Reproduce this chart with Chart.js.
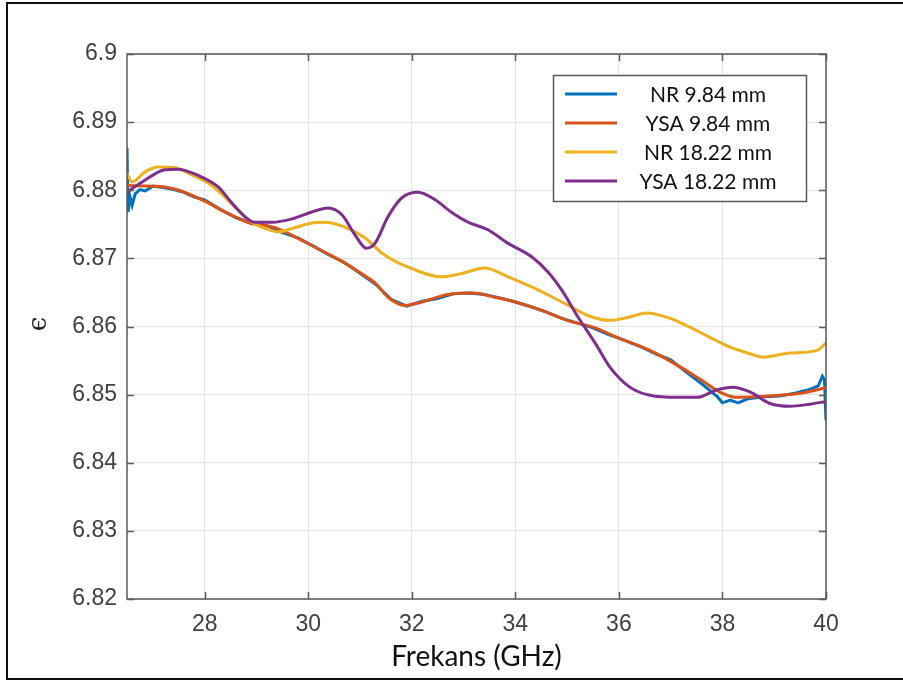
<!DOCTYPE html>
<html>
<head>
<meta charset="utf-8">
<script src="https://cdn.jsdelivr.net/npm/chart.js@4.4.1/dist/chart.umd.min.js"></script>
<style>
    html, body { margin: 0; padding: 0; background: #fff; overflow: hidden; }
    #wrap { position: relative; width: 903px; height: 680px; }
    #frame {
        position: absolute; left: 6px; top: 2px; width: 920px; height: 674px;
        border-left: 2px solid #111; border-top: 2px solid #111; border-bottom: 2px solid #111;
        pointer-events: none;
    }
    canvas { position: absolute; left: 0; top: 0; }
</style>
</head>
<body>
<div id="wrap">
    <canvas id="epsChart" width="903" height="680"></canvas>
    <div id="frame"></div>
</div>
<script>
// Tick positions and labels
const xTicks = [28, 30, 32, 34, 36, 38, 40];
const xTickLabels = ['28', '30', '32', '34', '36', '38', '40'];
const yTicks = [6.82, 6.83, 6.84, 6.85, 6.86, 6.87, 6.88, 6.89, 6.9];
const yTickLabels = ['6.82', '6.83', '6.84', '6.85', '6.86', '6.87', '6.88', '6.89', '6.9'];

const seriesNames = ['NR 9.84 mm', 'YSA 9.84 mm', 'NR 18.22 mm', 'YSA 18.22 mm'];

// NR 9.84 mm (measured, noisy)
const nr984Freq = [26.5, 26.52, 26.56, 26.6, 26.66, 26.75, 26.85, 27.0, 27.2, 27.4, 27.6, 27.8, 28.0, 28.3, 28.6, 28.9,
    29.2, 29.5, 29.8, 30.1, 30.4, 30.7, 31.0, 31.3, 31.6, 31.9, 32.2, 32.5, 32.8, 33.1, 33.4, 33.7, 34.0, 34.3,
    34.6, 34.9, 35.2, 35.5, 35.8, 36.1, 36.4, 36.7, 37.0, 37.3, 37.6, 37.9, 38.0, 38.15, 38.3, 38.5, 38.8, 39.1,
    39.4, 39.7, 39.85, 39.93, 39.97, 40.0];
const nr984Val = [6.8862, 6.8768, 6.8790, 6.8778, 6.8795, 6.8801, 6.8799, 6.8806, 6.8804, 6.8801, 6.8797, 6.8790, 6.8786,
    6.8772, 6.8760, 6.8752, 6.8748, 6.8738, 6.8730, 6.8718, 6.8705, 6.8694, 6.8678, 6.8662, 6.8640, 6.8630,
    6.8637, 6.8641, 6.8648, 6.8649, 6.8647, 6.8642, 6.8636, 6.8629, 6.8621, 6.8612, 6.8605, 6.8598, 6.8588,
    6.8580, 6.8571, 6.8560, 6.8551, 6.8533, 6.8516, 6.8497, 6.8488, 6.8492, 6.8488, 6.8494, 6.8497, 6.8498,
    6.8502, 6.8508, 6.8513, 6.8527, 6.8522, 6.8462];

// YSA 9.84 mm
const ysa984Freq = [26.5, 27.0, 27.2, 27.5, 28.0, 28.4, 28.9, 29.2, 29.4, 29.55, 29.94, 30.32, 30.71, 31.1, 31.29, 31.54,
    31.87, 32.2, 32.7, 33.2, 33.6, 34.0, 34.5, 35.0, 35.5, 36.0, 36.6, 37.2, 37.6, 38.0, 38.3, 38.9, 39.5, 40.0];
const ysa984Val = [6.8807, 6.8806, 6.8805, 6.8800, 6.8784, 6.8768, 6.8751, 6.8748, 6.8744, 6.8739, 6.8724, 6.8709, 6.8693,
    6.8674, 6.8664, 6.8643, 6.8631, 6.8636, 6.8647, 6.8649, 6.8643, 6.8636, 6.8624, 6.8609, 6.8599, 6.8583,
    6.8565, 6.8540, 6.8521, 6.8502, 6.8496, 6.8498, 6.8502, 6.8510];

// NR 18.22 mm
const nr1822Freq = [26.5, 26.6, 26.85, 27.1, 27.43, 27.76, 28.06, 28.39, 28.64, 28.91, 29.17, 29.42, 29.69, 30.07, 30.32,
    30.71, 31.1, 31.42, 31.93, 32.58, 32.97, 33.41, 33.86, 34.38, 34.9, 35.44, 35.83, 36.21, 36.54, 36.99, 37.37,
    37.76, 38.14, 38.53, 38.78, 39.3, 39.83, 40.0];
const nr1822Val = [6.8825, 6.8812, 6.8827, 6.8834, 6.8833, 6.8822, 6.8811, 6.8790, 6.8771, 6.8753, 6.8744, 6.8739, 6.8744,
    6.8752, 6.8753, 6.8746, 6.8730, 6.8708, 6.8687, 6.8673, 6.8678, 6.8686, 6.8673, 6.8656, 6.8636, 6.8615,
    6.8609, 6.8614, 6.8620, 6.8612, 6.8599, 6.8584, 6.8570, 6.8560, 6.8555, 6.8561, 6.8565, 6.8576];

// YSA 18.22 mm
const ysa1822Freq = [26.5, 26.85, 27.23, 27.48, 27.87, 28.26, 28.53, 28.78, 28.97, 29.3, 29.69, 30.07, 30.38, 30.65, 30.9,
    31.12, 31.29, 31.54, 31.81, 32.12, 32.45, 32.78, 33.09, 33.47, 33.86, 34.32, 34.63, 34.9, 35.21, 35.54, 35.83,
    36.21, 36.6, 37.12, 37.51, 37.89, 38.2, 38.53, 38.92, 39.3, 39.69, 40.0];
const ysa1822Val = [6.8797, 6.8815, 6.8830, 6.8831, 6.8822, 6.8805, 6.8781, 6.8761, 6.8753, 6.8753, 6.8758, 6.8768, 6.8774,
    6.8764, 6.8735, 6.8715, 6.8722, 6.8761, 6.8789, 6.8797, 6.8786, 6.8767, 6.8753, 6.8742, 6.8722, 6.8702,
    6.8680, 6.8653, 6.8614, 6.8576, 6.8540, 6.8511, 6.8499, 6.8496, 6.8496, 6.8507, 6.8511, 6.8504, 6.8487,
    6.8483, 6.8486, 6.8490];

function toPoints(xs, ys) {
    return xs.map((x, i) => ({ x: x, y: ys[i] }));
}

const colors = ['#0072BD', '#D95319', '#EDB120', '#7E2F8E'];
const axisColor = '#5a5a5a';
const labelColor = '#404040';

// MATLAB style box, inward ticks, legend and rotated y label
const matlabFrame = {
    id: 'matlabFrame',
    afterDraw(chart) {
        const ctx = chart.ctx;
        const a = chart.chartArea;
        const xs = chart.scales.x;
        const ys = chart.scales.y;
        ctx.save();
        ctx.strokeStyle = axisColor;
        ctx.lineWidth = 1.5;
        ctx.strokeRect(a.left, a.top, a.right - a.left, a.bottom - a.top);
        ctx.beginPath();
        xTicks.forEach(v => {
            const px = Math.round(xs.getPixelForValue(v)) + 0.5;
            ctx.moveTo(px, a.bottom); ctx.lineTo(px, a.bottom - 7);
            ctx.moveTo(px, a.top); ctx.lineTo(px, a.top + 7);
        });
        yTicks.forEach(v => {
            const py = Math.round(ys.getPixelForValue(v)) + 0.5;
            ctx.moveTo(a.left, py); ctx.lineTo(a.left + 7, py);
            ctx.moveTo(a.right, py); ctx.lineTo(a.right - 7, py);
        });
        ctx.stroke();

        // y label
        ctx.fillStyle = '#222';
        ctx.font = '26px "DejaVu Serif"';
        ctx.textAlign = 'center';
        ctx.textBaseline = 'middle';
        ctx.translate(39, 324);
        ctx.rotate(-Math.PI / 2);
        ctx.fillText('\u03f5', 0, 0);
        ctx.restore();

        // legend
        ctx.save();
        ctx.fillStyle = '#fff';
        ctx.fillRect(553, 75, 253, 126);
        ctx.strokeStyle = axisColor;
        ctx.lineWidth = 1.5;
        ctx.strokeRect(553.5, 75.5, 253, 126);
        ctx.font = '21px Lato';
        ctx.textAlign = 'center';
        ctx.textBaseline = 'middle';
        const rows = [94, 123, 152, 181];
        seriesNames.forEach((name, i) => {
            ctx.strokeStyle = colors[i];
            ctx.lineWidth = 3;
            ctx.beginPath();
            ctx.moveTo(565, rows[i]);
            ctx.lineTo(617, rows[i]);
            ctx.stroke();
            ctx.fillStyle = '#111';
            ctx.fillText(name, 708, rows[i] + 1);
        });
        ctx.restore();
    }
};

const series = [
    [nr984Freq, nr984Val, 0, 3],
    [ysa984Freq, ysa984Val, 0.4, 2],
    [nr1822Freq, nr1822Val, 0.4, 1],
    [ysa1822Freq, ysa1822Val, 0.4, 0]
];

new Chart(document.getElementById('epsChart'), {
    type: 'line',
    data: {
        datasets: series.map((s, i) => ({
            label: seriesNames[i],
            data: toPoints(s[0], s[1]),
            borderColor: colors[i],
            borderWidth: 3,
            pointRadius: 0,
            tension: s[2],
            cubicInterpolationMode: i === 0 ? 'default' : 'monotone',
            fill: false,
            order: s[3]
        }))
    },
    options: {
        responsive: false,
        animation: false,
        layout: { padding: { left: 0, top: 54, right: 77, bottom: 0 } },
        scales: {
            x: {
                type: 'linear',
                min: 26.5,
                max: 40,
                afterFit: scale => { scale.height = 81; },
                afterBuildTicks: scale => { scale.ticks = xTicks.map(v => ({ value: v })); },
                ticks: {
                    callback: (v, i) => xTickLabels[i],
                    color: labelColor,
                    font: { family: '"Liberation Sans", Arial', size: 23 },
                    padding: 12,
                    maxRotation: 0
                },
                grid: { color: '#e3e3e3', drawTicks: false },
                border: { display: false },
                title: {
                    display: true,
                    text: 'Frekans (GHz)',
                    color: '#111',
                    font: { family: 'Lato', size: 28 },
                    padding: { top: 0, bottom: 6 }
                }
            },
            y: {
                type: 'linear',
                min: 6.82,
                max: 6.9,
                afterFit: scale => { scale.width = 127; },
                afterBuildTicks: scale => { scale.ticks = yTicks.map(v => ({ value: v })); },
                ticks: {
                    callback: (v, i) => yTickLabels[i],
                    color: labelColor,
                    font: { family: '"Liberation Sans", Arial', size: 23 },
                    padding: 10
                },
                grid: { color: '#e3e3e3', drawTicks: false },
                border: { display: false }
            }
        },
        plugins: {
            legend: { display: false },
            tooltip: { enabled: false }
        }
    },
    plugins: [matlabFrame]
});
</script>
</body>
</html>
